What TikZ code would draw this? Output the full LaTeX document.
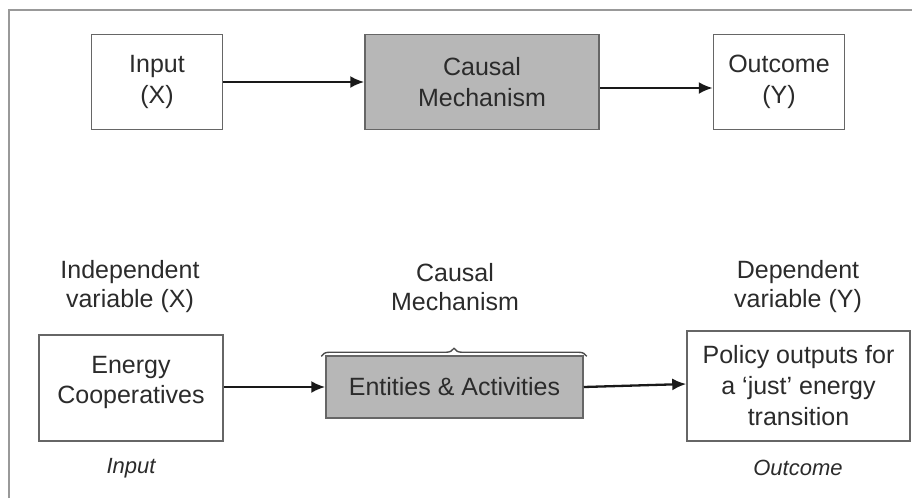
\documentclass[tikz,border=0pt]{standalone}
\usepackage{fontspec}
\setmainfont{Liberation Sans}
\usetikzlibrary{arrows.meta,decorations.pathreplacing}
\definecolor{txt}{HTML}{2B2B2B}
\definecolor{boxline}{HTML}{666666}
\definecolor{mechfill}{HTML}{B7B7B7}
\definecolor{framecol}{HTML}{999999}
\begin{document}
\begin{tikzpicture}[x=1pt,y=-1pt,
  box/.style={draw=boxline, line width=1.5pt, fill=white, inner sep=0pt,
    align=center, text=txt, font=\fontsize{25}{31}\selectfont},
  mech/.style={box, fill=mechfill},
  caption/.style={align=center, text=txt, inner sep=0pt,
    font=\fontsize{25}{29}\selectfont},
  tag/.style={text=txt, inner sep=0pt, font=\fontsize{22}{26}\selectfont\itshape},
  flow/.style={draw=black!90, line width=2.3pt, -{Latex[length=14pt,width=12pt]}},
  bracket/.style={draw=black!70, line width=1.4pt,
    decorate, decoration={brace, amplitude=8pt}}]
\useasboundingbox (0,0) rectangle (912,498);
% outer frame (top and left edges)
\draw[framecol, line width=2pt] (9,498) -- (9,10) -- (912,10);

% generic model
\node[box, minimum width=131, minimum height=95] (in) at (157,82) {Input\\(X)};
\node[mech, minimum width=234, minimum height=95] (cm) at (482,82) {Causal\\Mechanism};
\node[box, minimum width=131, minimum height=95] (out) at (779,82) {Outcome\\(Y)};
\draw[flow] (in.east) -- (cm.west);
\draw[flow] ([yshift=-6pt]cm.east) -- ([yshift=-6pt]out.west);

% applied model
\node[caption] (iv) at (130,287) {Independent\\variable (X)};
\node[caption] (cmcap) at (455,287) {Causal\\Mechanism};
\node[caption] (dv) at (798,287) {Dependent\\variable (Y)};

\node[box, minimum width=184, minimum height=106] (ec) at (131,388) {};
\node[caption, font=\fontsize{25}{30}\selectfont] (ectext) at (131,382) {Energy\\Cooperatives};
\node[mech, minimum width=257, minimum height=62] (ea) at (454.5,387) {Entities \& Activities};
\node[box, minimum width=223, minimum height=110] (po) at (798.5,386) {Policy outputs for\\a ‘just’ energy\\transition};

\draw[bracket] ([xshift=-4pt,yshift=-1pt]ea.north west) -- ([xshift=3pt,yshift=-1pt]ea.north east);

\draw[flow] (ec.east |- ea.west) -- (ea.west);
\draw[flow] (ea.east) -- ([yshift=2pt]po.west);

\node[tag] (tin) at (131,468) {Input};
\node[tag] (tout) at (798,468) {Outcome};
\end{tikzpicture}
\end{document}
